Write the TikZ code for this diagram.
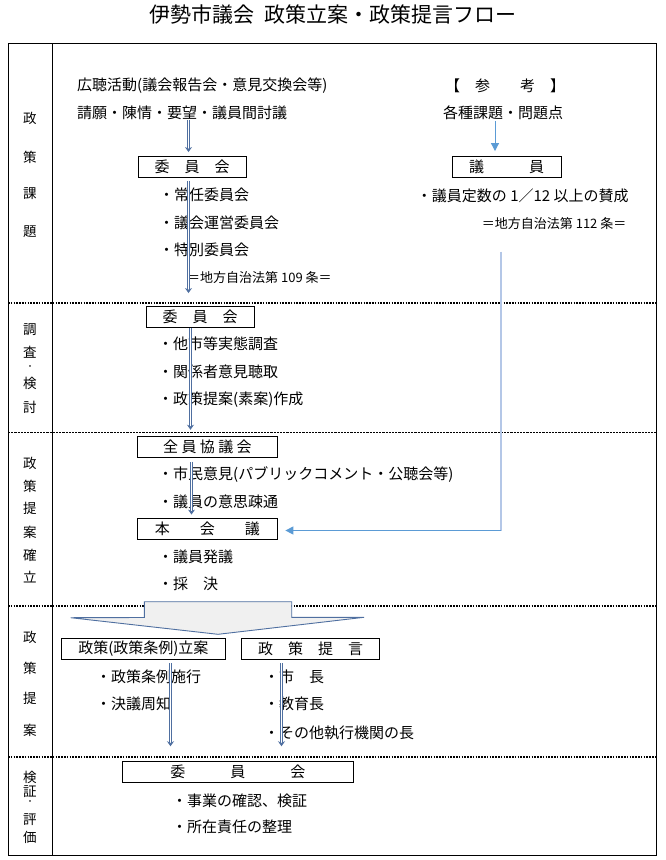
\documentclass[tikz,border=0pt]{standalone}
\usepackage{fontspec}
\setmainfont{Noto Sans CJK JP}
\usetikzlibrary{arrows.meta}
\definecolor{frameblue}{RGB}{79,111,160}
\definecolor{refblue}{RGB}{91,155,213}
\definecolor{paleblue}{RGB}{180,199,231}

\begin{document}
\begin{tikzpicture}[x=1pt, y=-1pt,
    every node/.style={font=\fontsize{15}{16}\selectfont, inner sep=0pt},
    boxnode/.style={draw, line width=0.9pt, minimum height=21pt},
    item/.style={anchor=west},
    law/.style={anchor=west, font=\fontsize{13}{15}\selectfont},
    sidechar/.style={font=\fontsize{13.5}{15}\selectfont},
    dblarrow/.style={draw=frameblue, line width=0.75pt, double=white, double distance=1.5pt, -{Stealth[length=5pt,width=7pt]}},
    refarrow/.style={draw=refblue, line width=1pt, -{Triangle[length=8pt,width=8pt]}},
    paleline/.style={draw=paleblue, line width=1.6pt},
    heavydot/.style={line width=1.6pt, dash pattern=on 1.6pt off 1.2pt},
    lightdash/.style={line width=0.8pt, dash pattern=on 2.2pt off 1pt}]
    \useasboundingbox (0,0) rectangle (665,860);

    \node[font=\fontsize{21}{24}\selectfont] (title) at (333,15) {伊勢市議会\hspace{0.5em}政策立案・政策提言フロー};

    \draw[line width=1pt] (8,43) rectangle (656,855);
    \draw[line width=1pt] (52,43) -- (52,855);
    \foreach \y in {303,606,757} {
        \draw[heavydot] (8,\y) -- (656,\y);
    }
    \draw[lightdash] (8,432.5) -- (656,432.5);

    \foreach \c/\y in {政/118, 策/157, 課/194, 題/232, 調/330, 査/352, 検/383, 討/407,
                       政/463, 策/486, 提/508, 案/532, 確/555, 立/577, 政/637, 策/668, 提/698, 案/730,
                       検/777, 証/792, 評/820, 価/837} {
        \node[sidechar] (side\y) at (30,\y) {\c};
    }
    \foreach \y in {368,803} {
        \node[font=\fontsize{8}{9}\selectfont] (dot\y) at (30,\y) {・};
    }

    \node[item] (hearing) at (77,85.7) {広聴活動(議会報告会・意見交換会等)};
    \node[item] (petition) at (77,112.7) {請願・陳情・要望・議員間討議};
    \node[boxnode, minimum width=108pt] (com1) at (192,167) {委　員　会};
    \node[item] (com1a) at (159,195) {・常任委員会};
    \node[item] (com1b) at (159,222.7) {・議会運営委員会};
    \node[item] (com1c) at (159,250) {・特別委員会};
    \node[law] (law109) at (187,277.3) {＝地方自治法第 109 条＝};

    \node (ref) at (505,86) {【　参　　考　】};
    \node (issue) at (503,112.7) {各種課題・問題点};
    \node[boxnode, minimum width=109pt] (giin) at (506.5,167) {議　　　員};
    \node[item] (quota) at (416.7,196) {・議員定数の 1／12 以上の賛成};
    \node[law] (law112) at (481.7,224) {＝地方自治法第 112 条＝};

    \node[boxnode, minimum width=108pt] (com2) at (200,317) {委　員　会};
    \node[item] (com2a) at (158,344.3) {・他市等実態調査};
    \node[item] (com2b) at (158,371.7) {・関係者意見聴取};
    \node[item] (com2c) at (158,399.3) {・政策提案(素案)作成};

    \node[boxnode, minimum width=140pt] (zenin) at (207.4,446.7) {全 員 協 議 会};
    \node[item] (zenina) at (158,474.3) {・市民意見(パブリックコメント・公聴会等)};
    \node[item] (zeninb) at (158,501.7) {・議員の意思疎通};
    \node[boxnode, minimum width=140pt] (honkai) at (207.4,528.5) {本　　会　　議};
    \node[item] (honkaia) at (158,556.7) {・議員発議};
    \node[item] (honkaib) at (158,584.3) {・採　決};

    \draw[draw=frameblue, fill=black!6, line width=0.9pt, line join=miter]
        (144.3,601.7) -- (291.7,601.7) -- (291.7,617.3) -- (364,617.3) -- (218,634.3)
        -- (70.7,617.7) -- (144.3,617.5) -- cycle;

    \node[boxnode, minimum width=163.3pt] (rian) at (143.4,648.5) {政策(政策条例)立案};
    \node[boxnode, minimum width=137.6pt] (teigen) at (310.5,648.5) {政　策　提　言};
    \node[item] (riana) at (96,677) {・政策条例施行};
    \node[item] (rianb) at (96,704) {・決議周知};
    \node[item] (teigena) at (264,677) {・市　長};
    \node[item] (teigenb) at (264,704) {・教育長};
    \node[item] (teigenc) at (264,732.7) {・その他執行機関の長};

    \node[boxnode, minimum width=230.4pt] (com3) at (237.8,771.7) {委　　　員　　　会};
    \node[item] (com3a) at (172,800.7) {・事業の確認、検証};
    \node[item] (com3b) at (172,827) {・所在責任の整理};

    \coordinate (colA) at (188.5,0);
    \coordinate (colB) at (190.5,0);
    \coordinate (colC) at (191.5,0);
    \coordinate (colD) at (170.5,0);
    \coordinate (colE) at (281.5,0);
    \coordinate (refx) at (495,0);
    \draw[dblarrow, shorten >=4pt] (petition.south -| colA) -- (com1.north -| colA);
    \draw[dblarrow, shorten <=3pt, shorten >=13pt] (com1.south -| colA) -- (com2.north -| colA);
    \draw[dblarrow, shorten >=6pt] (com2.south -| colB) -- (zenin.north -| colB);
    \draw[dblarrow, shorten <=4pt, shorten >=3pt] (zenin.south -| colC) -- (honkai.north -| colC);
    \draw[dblarrow, shorten <=4pt, shorten >=14.5pt] (rian.south -| colD) -- (com3.north -| colD);
    \draw[dblarrow, shorten <=4pt, shorten >=14.5pt] (teigen.south -| colE) -- (com3.north -| colE);

    \draw[refarrow, shorten <=1pt, shorten >=5pt] (issue.south -| refx) -- (giin.north -| refx);
    \coordinate (refstart) at (500.7,251.7);
    \coordinate (refturn) at (500.7,530.5);
    \draw[paleline] (refstart) -- (refturn);
    \draw[refarrow, shorten >=7.5pt] (refturn) -- (refturn -| honkai.east);
\end{tikzpicture}
\end{document}
